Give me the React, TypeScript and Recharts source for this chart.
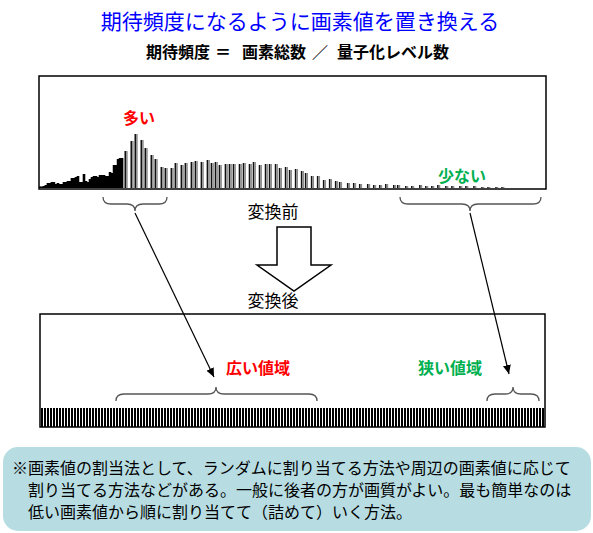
import React from 'react';
import { BarChart, Bar, XAxis, YAxis } from 'recharts';

// 変換前ヒストグラム: 低い画素値側の連続した部分 (level 0..41)
const denseCounts = [1.5, 1.5, 2, 3, 5, 5, 6, 6, 4, 5, 4, 4, 6, 6, 7, 7, 10, 10, 11, 12, 6, 6, 14, 7, 6, 9, 11, 12, 12, 11, 13, 13, 13, 12, 12, 16, 15, 23, 23, 29, 30, 30];
// 飛び飛びのレベルに出現する部分
const sparseLevels = [43, 46, 48, 51, 53, 56, 58, 61, 63, 66, 68, 71, 73, 76, 78, 81, 84, 86, 88, 90, 93, 95, 97, 100, 102, 105, 107, 110, 113, 115, 118, 120, 123, 125, 128, 131, 133, 136, 139, 142, 145, 148, 150, 154, 157, 160, 164, 167, 170, 173, 177, 179, 183, 186, 190, 193, 196, 199, 203, 206, 210, 213, 217, 221, 224, 228, 231];
const sparseCounts = [37, 47, 54, 48, 40, 33, 29, 21, 20, 20, 25, 23, 25, 26, 27, 26, 28, 25, 26, 23, 24, 24, 24, 24, 25, 24, 26, 23, 24, 24, 24, 20, 21, 18, 19, 17, 15, 12, 12, 8, 9, 7, 6, 5, 5, 4, 4, 3, 3, 4, 3, 3, 2, 2, 3, 2, 2, 3, 2, 2, 2, 2, 2, 1, 1, 1, 1];

// 変換後: 全レベルが期待頻度
const EQUALIZED_LEVELS = 168;
const EXPECTED_FREQ = 1;

const noteLines = [
  '※画素値の割当法として、ランダムに割り当てる方法や周辺の画素値に応じて',
  '割り当てる方法などがある。一般に後者の方が画質がよい。最も簡単なのは',
  '低い画素値から順に割り当てて（詰めて）いく方法。',
];

const beforeData = [
  ...denseCounts.map((count, i) => ({ level: i, count })),
  ...sparseLevels.map((level, i) => ({ level, count: sparseCounts[i] })),
];
const afterData = Array.from({ length: EQUALIZED_LEVELS }, (_, i) => ({ level: i, count: EXPECTED_FREQ }));

const FONT = "'Noto Sans CJK JP', sans-serif";

// 黒＋灰の2色で描く棒 (連続部分は黒で塗りつぶし)
const HistBar = (props: any) => {
  const { x, y, width, height, payload } = props;
  if (!height || height <= 0) return null;
  const cx = x + width / 2;
  if (payload && payload.level < denseCounts.length) {
    return <rect x={cx - 1.3} y={y} width={2.6} height={height} fill="#000" />;
  }
  return (
    <g>
      <rect x={cx - 1.6} y={y} width={1.6} height={height} fill="#111" />
      <rect x={cx} y={y} width={1.6} height={height} fill="#8c8c8c" />
    </g>
  );
};

const StripeBar = (props: any) => {
  const { x, y, width, height } = props;
  const cx = x + width / 2;
  return <rect x={Math.round(cx - 1)} y={y} width={2} height={height} fill="#000" shapeRendering="crispEdges" />;
};

// 波括弧 (dir=1: 先端が下, dir=-1: 先端が上)
const brace = (x1: number, x2: number, xm: number, y0: number, h: number, dir: number) => {
  const ym = y0 + (dir * h) / 2;
  const yt = y0 + dir * h;
  const r = 8;
  return `M${x1},${y0} Q${x1},${ym} ${x1 + r},${ym} L${xm - r},${ym} Q${xm},${ym} ${xm},${yt} Q${xm},${ym} ${xm + r},${ym} L${x2 - r},${ym} Q${x2},${ym} ${x2},${y0}`;
};

export default function App() {
  return (
    <div style={{ position: 'absolute', left: 0, top: 0, width: 593, height: 533, background: '#fff', fontFamily: FONT }}>
      <div style={{ position: 'absolute', left: 39, top: 76 }}>
        <BarChart width={507} height={113} data={beforeData} margin={{ top: 0, right: 0, bottom: 1, left: 0 }}>
          <XAxis type="number" dataKey="level" domain={[-0.5, 252.5]} hide />
          <YAxis type="number" domain={[0, 112]} hide />
          <Bar dataKey="count" barSize={3} shape={HistBar} isAnimationActive={false} />
        </BarChart>
      </div>
      <div style={{ position: 'absolute', left: 41, top: 408 }}>
        <BarChart width={504} height={19} data={afterData} margin={{ top: 0, right: 0, bottom: 0, left: 0 }}>
          <XAxis dataKey="level" hide />
          <YAxis type="number" domain={[0, EXPECTED_FREQ]} hide />
          <Bar dataKey="count" shape={StripeBar} isAnimationActive={false} />
        </BarChart>
      </div>
      <svg width={593} height={533} style={{ position: 'absolute', left: 0, top: 0, pointerEvents: 'none' }} fontFamily={FONT}>
        <defs>
          <marker id="ah" markerUnits="userSpaceOnUse" markerWidth={10} markerHeight={10} refX={9} refY={4} orient="auto">
            <path d="M0,0 L9,4 L0,8 Z" fill="#000" />
          </marker>
        </defs>
        <text x={300} y={20} textAnchor="middle" dominantBaseline="central" fontSize={21} fill="#0000ff">期待頻度になるように画素値を置き換える</text>
        <g fontSize={16} fontWeight="bold" fill="#000">
          <text x={146} y={51} dominantBaseline="central">期待頻度</text>
          <text x={223} y={51} textAnchor="middle" dominantBaseline="central">＝</text>
          <text x={242} y={51} dominantBaseline="central">画素総数</text>
          <text x={320} y={51} textAnchor="middle" dominantBaseline="central">／</text>
          <text x={337} y={51} dominantBaseline="central">量子化レベル数</text>
        </g>

        <rect x={39} y={76} width={507} height={113} fill="none" stroke="#000" strokeWidth={1.5} />
        <text x={139} y={117} textAnchor="middle" dominantBaseline="central" fontSize={16} fontWeight="bold" fill="#ff0000">多い</text>
        <text x={462} y={175} textAnchor="middle" dominantBaseline="central" fontSize={16} fontWeight="bold" fill="#00b050">少ない</text>

        <g fill="none" stroke="#555" strokeWidth={1.3}>
          <path d={brace(103, 167, 135, 197, 14, 1)} />
          <path d={brace(400, 541, 470, 197, 14, 1)} />
          <path d={brace(116, 317, 216, 401, 14, -1)} />
          <path d={brace(487, 539, 513, 401, 14, -1)} />
        </g>

        <text x={273} y={210} textAnchor="middle" dominantBaseline="central" fontSize={17} fill="#000">変換前</text>
        <path d="M277,227 L311,227 L311,265 L331,265 L294,291 L257,265 L277,265 Z" fill="#fff" stroke="#000" strokeWidth={1.5} />
        <text x={273} y={299} textAnchor="middle" dominantBaseline="central" fontSize={17} fill="#000">変換後</text>

        <line x1={135} y1={213} x2={214} y2={377} stroke="#000" strokeWidth={1.2} markerEnd="url(#ah)" />
        <line x1={470} y1={213} x2={509} y2={374} stroke="#000" strokeWidth={1.2} markerEnd="url(#ah)" />

        <rect x={40} y={314} width={505} height={113} fill="none" stroke="#000" strokeWidth={1.5} />
        <text x={258} y={367} textAnchor="middle" dominantBaseline="central" fontSize={16} fontWeight="bold" fill="#ff0000">広い値域</text>
        <text x={450} y={367} textAnchor="middle" dominantBaseline="central" fontSize={16} fontWeight="bold" fill="#00b050">狭い値域</text>

        <rect x={3} y={447} width={588} height={84} rx={15} ry={15} fill="#b7dde3" />
        {noteLines.map((line, i) => (
          <text key={i} x={i === 0 ? 12 : 28} y={467 + i * 22} dominantBaseline="central" fontSize={16} fill="#000">{line}</text>
        ))}
      </svg>
    </div>
  );
}
